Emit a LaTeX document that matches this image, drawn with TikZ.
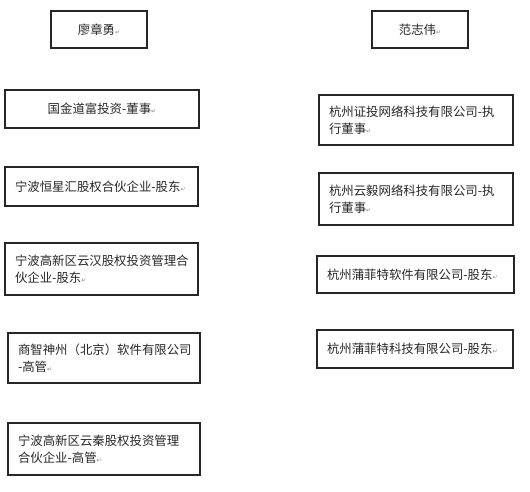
\documentclass[tikz,border=0pt]{standalone}
\usepackage{fontspec}
\newfontfamily\cjk{Noto Sans CJK SC}
\newfontfamily\symfont{DejaVu Sans}
\newcommand{\pmark}{{\symfont\fontsize{6}{6}\selectfont\textcolor{gray}{↵}}}

\begin{document}
\begin{tikzpicture}[x=1pt, y=-1pt,
    every node/.style={font=\cjk\fontsize{12.4}{17}\selectfont, text=black!85},
    orgbox/.style={draw=black!85, line width=1.1pt, inner xsep=10pt, inner ysep=0pt, align=left}]
    \useasboundingbox (0,0) rectangle (530,491);
    % Persons
    \node[orgbox, align=center, minimum width=96pt, minimum height=37pt] (lzy) at (99,29.5) {廖章勇\pmark};
    \node[orgbox, align=center, minimum width=96pt, minimum height=37pt] (fzw) at (420,29.5) {范志伟\pmark};
    % Left column
    \node[orgbox, align=center, text width=174pt, minimum height=38pt] (l1) at (102,109) {国金道富投资-董事\pmark};
    \node[orgbox, text width=173pt, minimum height=39pt] (l2) at (101.5,186.5) {宁波恒星汇股权合伙企业-股东\pmark};
    \node[orgbox, text width=173pt, minimum height=52pt] (l3) at (101.5,269) {宁波高新区云汉股权投资管理合\\伙企业-股东\pmark};
    \node[orgbox, text width=172pt, minimum height=50pt] (l4) at (104,358) {商智神州（北京）软件有限公司\\-高管\pmark};
    \node[orgbox, text width=172pt, minimum height=52pt] (l5) at (104,449) {宁波高新区云秦股权投资管理\\合伙企业-高管\pmark};
    % Right column
    \node[orgbox, text width=174pt, minimum height=50pt] (f1) at (416,120) {杭州证投网络科技有限公司-执\\行董事\pmark};
    \node[orgbox, text width=174pt, minimum height=52pt] (f2) at (416,199) {杭州云毅网络科技有限公司-执\\行董事\pmark};
    \node[orgbox, text width=177pt, minimum height=37pt] (f3) at (415.5,274.5) {杭州蒲菲特软件有限公司-股东\pmark};
    \node[orgbox, text width=176pt, minimum height=38pt] (f4) at (415,349) {杭州蒲菲特科技有限公司-股东\pmark};
\end{tikzpicture}
\end{document}
